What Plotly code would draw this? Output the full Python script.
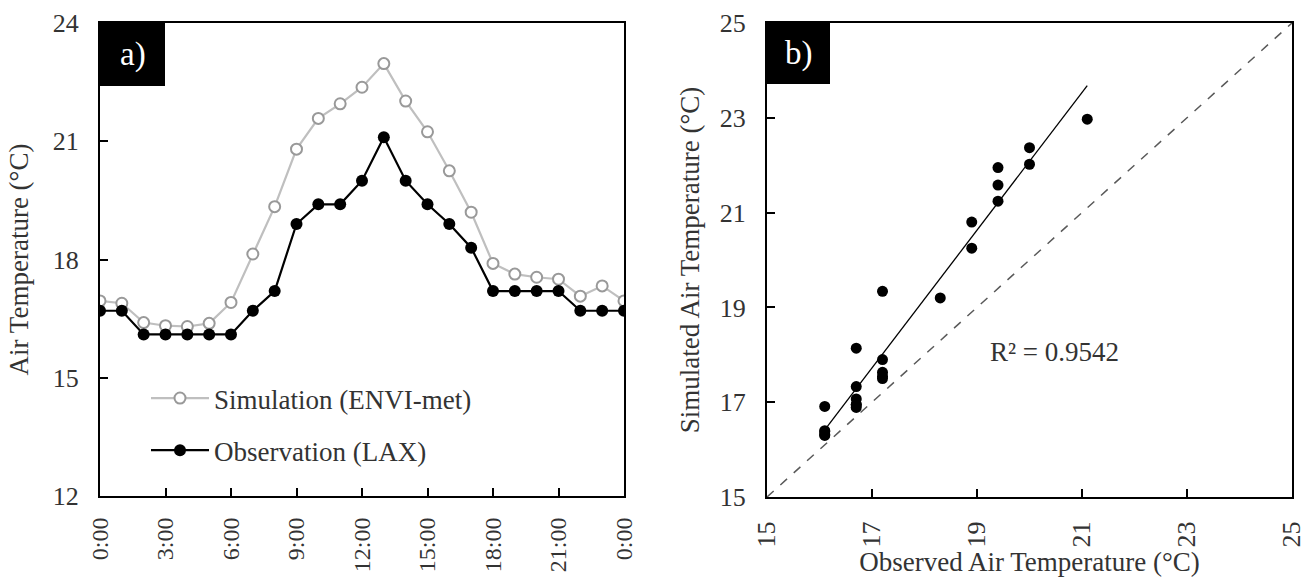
import numpy as np
import plotly.graph_objects as go

# ---------------- data ----------------
hours = list(range(25))
tick_hours = [0, 3, 6, 9, 12, 15, 18, 21, 24]
tick_hour_labels = ["0:00", "3:00", "6:00", "9:00", "12:00", "15:00", "18:00", "21:00", "0:00"]

simulation = [16.95, 16.89, 16.40, 16.32, 16.30, 16.38, 16.91, 18.14, 19.34, 20.80,
              21.58, 21.95, 22.37, 22.97, 22.02, 21.24, 20.25, 19.20, 17.90, 17.63,
              17.55, 17.50, 17.07, 17.33, 16.95]
observation = [16.7, 16.7, 16.1, 16.1, 16.1, 16.1, 16.1, 16.7, 17.2, 18.9,
               19.4, 19.4, 20.0, 21.1, 20.0, 19.4, 18.9, 18.3, 17.2, 17.2,
               17.2, 17.2, 16.7, 16.7, 16.7]

ya_ticks = [12, 15, 18, 21, 24]
b_ticks = [15, 17, 19, 21, 23, 25]
one_to_one = [15, 25]
r2_text = "R² = 0.9542"

# regression fit
obs_arr = np.array(observation)
sim_arr = np.array(simulation)
slope, intercept = np.polyfit(obs_arr, sim_arr, 1)
fit_x = [obs_arr.min(), obs_arr.max()]
fit_y = [slope * v + intercept for v in fit_x]

FONT = "Liberation Serif, serif"
TXT = "#333333"
TS = 27   # title / legend size
KS = 26   # tick label size

fig = go.Figure()

fig.add_trace(go.Scatter(
    x=hours, y=simulation, mode="lines+markers", name="Simulation (ENVI-met)",
    line=dict(color="#bfbfbf", width=2.2),
    marker=dict(symbol="circle", size=11, color="white", line=dict(color="#999999", width=2)),
    xaxis="x", yaxis="y", legendgroup="a"))
fig.add_trace(go.Scatter(
    x=hours, y=observation, mode="lines+markers", name="Observation (LAX)",
    line=dict(color="black", width=2.2),
    marker=dict(symbol="circle", size=12, color="black"),
    xaxis="x", yaxis="y", legendgroup="b"))

fig.add_trace(go.Scatter(
    x=one_to_one, y=one_to_one, mode="lines", showlegend=False,
    line=dict(color="#595959", width=1.5, dash="dash"), xaxis="x2", yaxis="y2"))
fig.add_trace(go.Scatter(
    x=fit_x, y=fit_y, mode="lines", showlegend=False,
    line=dict(color="black", width=1.3), xaxis="x2", yaxis="y2"))
fig.add_trace(go.Scatter(
    x=observation, y=simulation, mode="markers", showlegend=False,
    marker=dict(symbol="circle", size=11, color="black"), xaxis="x2", yaxis="y2"))

W, H = 1312, 578
ax_common = dict(showgrid=False, zeroline=False, showline=True, linecolor="black", linewidth=2,
                 mirror=True, ticks="inside", ticklen=8, tickwidth=1.5, tickcolor="black",
                 automargin=False,
                 tickfont=dict(family=FONT, size=KS, color=TXT))

fig.update_layout(
    template="none",
    width=W, height=H, margin=dict(l=0, r=0, t=0, b=0, autoexpand=False),
    paper_bgcolor="white", plot_bgcolor="white",
    font=dict(family=FONT, size=TS, color=TXT),
    xaxis=dict(ax_common, domain=[100 / W, 624 / W], range=[0, 24], tickmode="array",
               tickvals=tick_hours, ticktext=tick_hour_labels, tickangle=-90,
               ticklabelstandoff=10, anchor="y",
               tickfont=dict(family=FONT, size=24, color=TXT)),
    yaxis=dict(ax_common, domain=[(H - 496) / H, (H - 23) / H], range=[12, 24], tickmode="array",
               tickvals=ya_ticks, ticklabelstandoff=14, anchor="x",
               title=dict(text="Air Temperature (°C)", standoff=16,
                          font=dict(family=FONT, size=TS, color=TXT))),
    xaxis2=dict(ax_common, domain=[767 / W, 1292 / W], range=[15, 25], tickmode="array",
                tickvals=b_ticks, tickangle=-90, ticklabelstandoff=12, anchor="y2",
                title=dict(text="Observed Air Temperature (°C)", standoff=6,
                           font=dict(family=FONT, size=TS, color=TXT))),
    yaxis2=dict(ax_common, domain=[(H - 497) / H, (H - 23) / H], range=[15, 25], tickmode="array",
                tickvals=b_ticks, ticklabelstandoff=14, anchor="x2",
                title=dict(text="Simulated Air Temperature (°C)", standoff=12,
                           font=dict(family=FONT, size=TS, color=TXT))),
    legend=dict(x=146 / W, y=(H - 374) / H, xanchor="left", yanchor="top",
                bgcolor="rgba(0,0,0,0)", font=dict(family=FONT, size=TS, color=TXT),
                tracegroupgap=14, itemwidth=58, traceorder="grouped"),
    showlegend=True,
)

# panel labels
fig.add_shape(type="rect", xref="x domain", yref="y domain", x0=0, x1=65 / 524, y0=1 - 63 / 473, y1=1,
              fillcolor="black", line=dict(width=0), layer="above")
fig.add_annotation(text="a)", xref="x domain", yref="y domain", x=32.5 / 524, y=1 - 31.5 / 473,
                   xanchor="center", yanchor="middle",
                   showarrow=False, font=dict(family=FONT, size=33, color="white"))
fig.add_shape(type="rect", xref="x2 domain", yref="y2 domain", x0=0, x1=63 / 525, y0=1 - 61 / 474, y1=1,
              fillcolor="black", line=dict(width=0), layer="above")
fig.add_annotation(text="b)", xref="x2 domain", yref="y2 domain", x=31.5 / 525, y=1 - 30.5 / 474,
                   xanchor="center", yanchor="middle",
                   showarrow=False, font=dict(family=FONT, size=33, color="white"))

fig.add_annotation(text=r2_text, xref="x2", yref="y2", x=20.47, y=18.06, showarrow=False,
                   font=dict(family=FONT, size=TS, color=TXT))

fig.write_html("out.html")
